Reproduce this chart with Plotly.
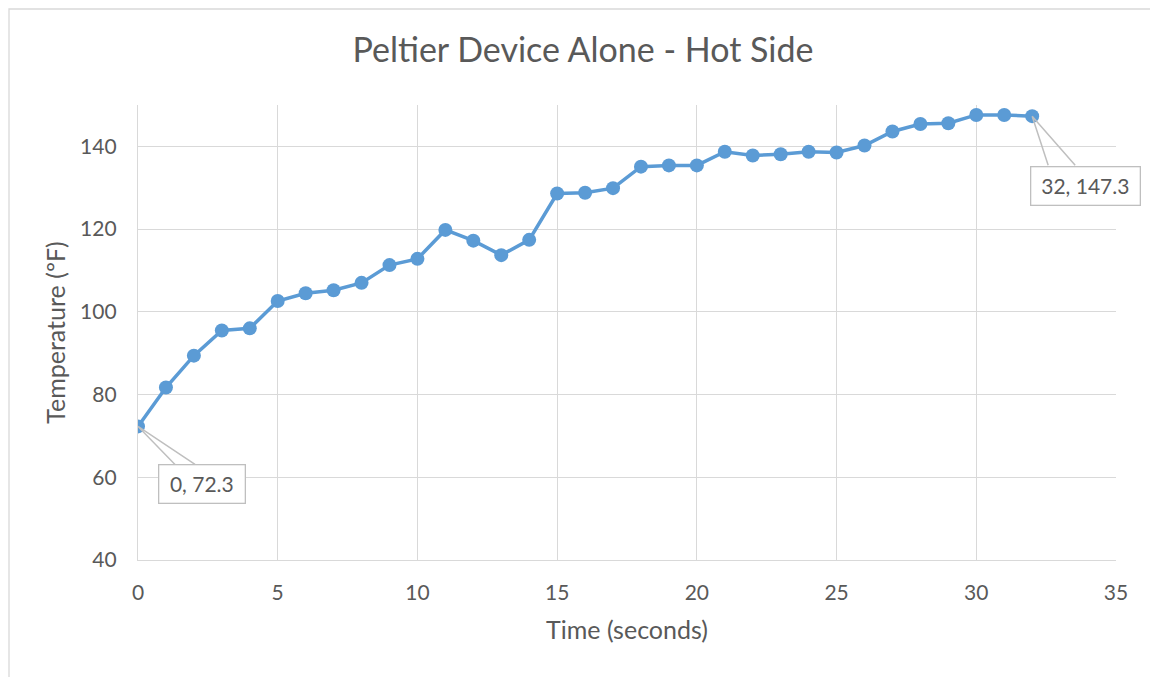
import plotly.graph_objects as go

time_s = list(range(0, 33))
temp_f = [72.3, 81.7, 89.4, 95.5, 96.0, 102.6, 104.5, 105.2, 107.0, 111.3,
          112.8, 119.8, 117.2, 113.7, 117.4, 128.6, 128.8, 129.9, 135.1, 135.4,
          135.4, 138.7, 137.8, 138.1, 138.7, 138.5, 140.2, 143.6, 145.4, 145.6,
          147.6, 147.6, 147.3]
x_ticks = [0, 5, 10, 15, 20, 25, 30, 35]
y_ticks = [40, 60, 80, 100, 120, 140]

title_text = "Peltier Device Alone - Hot Side"
x_title = "Time (seconds)"
y_title = "Temperature (ºF)"

FONT = "Lato, 'Open Sans', sans-serif"
TXT = "#595959"
GRID = "#d9d9d9"
BLUE = "#5b9bd5"

W, H = 1150, 669
ML, MR, MT, MB = 130, 42, 97, 117
PW, PH = W - ML - MR, H - MT - MB

fig = go.Figure()
fig.add_trace(go.Scatter(
    x=time_s, y=temp_f, mode="lines+markers",
    line=dict(color=BLUE, width=3.5),
    marker=dict(color=BLUE, size=14),
    showlegend=False, hoverinfo="x+y",
))

first_x, first_y = time_s[0], temp_f[0]
last_x, last_y = time_s[-1], temp_f[-1]

for (px, py, dx, dy, bw, path) in [
    (first_x, first_y, 64, -58, 75, "M0,0 L37,-38 M0,0 L57,-38"),
    (last_x, last_y, 53, -70, 98, "M0,0 L16,-49 M0,0 L43,-49"),
]:
    fig.add_shape(type="path", xref="x", yref="y", xsizemode="pixel", ysizemode="pixel",
                  xanchor=px, yanchor=py, path=path,
                  line=dict(color="#bfbfbf", width=1.5), layer="above")
    fig.add_annotation(x=px, y=py, xref="x", yref="y",
                       text=f"{px}, {py}", showarrow=False,
                       xshift=dx, yshift=dy, width=bw, height=27, align="center",
                       font=dict(family=FONT, size=21, color=TXT),
                       bgcolor="white", bordercolor="#bfbfbf", borderwidth=1.3, borderpad=5)

# outer chart border
fig.add_shape(type="rect", xref="paper", yref="paper",
              x0=(1 - ML) / PW, x1=(W - 1 - ML) / PW,
              y0=-0.3, y1=(PH + MT - 1) / PH,
              line=dict(color=GRID, width=1.3), layer="below")

fig.update_layout(
    width=W, height=H,
    margin=dict(l=ML, r=MR, t=MT, b=MB),
    paper_bgcolor="white", plot_bgcolor="white",
    title=dict(text=title_text, x=0.5, xref="container", xanchor="center",
               y=1 - 42 / H, yref="container", yanchor="middle",
               font=dict(family=FONT, size=34, color=TXT)),
    font=dict(family=FONT, color=TXT),
    xaxis=dict(range=[0, 35], tickvals=x_ticks, ticktext=[str(v) for v in x_ticks],
               showgrid=True, gridcolor=GRID, gridwidth=1.3,
               showline=True, linecolor=GRID, linewidth=1.3, zeroline=False,
               ticks="", ticklabelstandoff=14,
               tickfont=dict(family=FONT, size=21, color=TXT),
               title=dict(text=x_title, font=dict(family=FONT, size=25, color=TXT), standoff=18)),
    yaxis=dict(range=[40, 150], tickvals=y_ticks, ticktext=[str(v) for v in y_ticks],
               showgrid=True, gridcolor=GRID, gridwidth=1.3,
               showline=True, linecolor=GRID, linewidth=1.3, zeroline=False,
               ticks="", ticklabelstandoff=16,
               tickfont=dict(family=FONT, size=21, color=TXT),
               title=dict(text=y_title, font=dict(family=FONT, size=25, color=TXT), standoff=7)),
)

fig.write_html("out.html")
